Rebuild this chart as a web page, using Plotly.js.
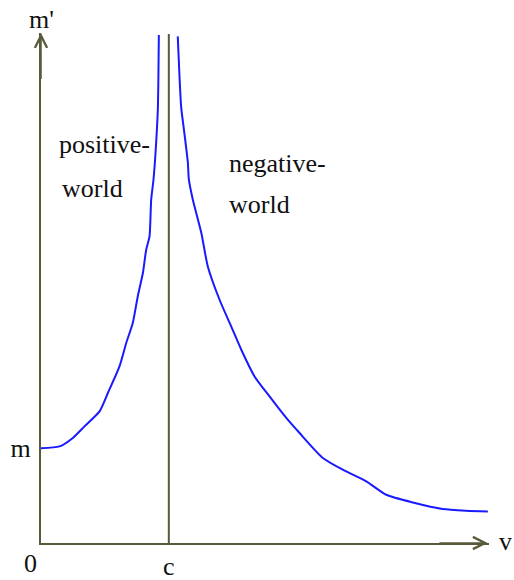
<!DOCTYPE html>
<html>
<head>
<meta charset="utf-8">
<script src="https://cdn.plot.ly/plotly-3.0.1.min.js"></script>
<style>
  html, body { margin: 0; padding: 0; background: #ffffff; }
  #chart { width: 514px; height: 580px; }
</style>
</head>
<body>
<div id="chart"></div>
<script>
// Speed v measured in units of c, mass m' in units of the rest mass m.
const cValue = 1;
const mValue = 1;

// Below light speed: the "positive world" branch, rising from m towards infinity.
const positiveV = [0, 0.145, 0.249, 0.340, 0.458, 0.523, 0.614, 0.667, 0.718, 0.757,
                   0.797, 0.823, 0.849, 0.862, 0.880, 0.896, 0.914, 0.922];
const positiveM = [1.00, 1.019, 1.108, 1.230, 1.388, 1.582, 1.863, 2.110, 2.321, 2.601,
                   2.848, 3.094, 3.234, 3.621, 3.832, 4.117, 4.571, 5.36];

// Above light speed: the "negative world" branch, falling from infinity.
const negativeV = [1.070, 1.084, 1.097, 1.115, 1.131, 1.149, 1.157, 1.188, 1.254, 1.305,
                   1.397, 1.488, 1.567, 1.671, 1.788, 1.919, 2.023, 2.205, 2.361, 2.545,
                   2.701, 2.909, 3.144, 3.327, 3.496];
const negativeM = [5.344, 4.908, 4.592, 4.395, 4.223, 4.012, 3.832, 3.621, 3.273, 2.918,
                   2.566, 2.285, 2.039, 1.757, 1.546, 1.319, 1.160, 0.897, 0.773, 0.650,
                   0.509, 0.428, 0.359, 0.341, 0.333];

const xTickVals = [cValue];
const xTickText = ['c'];
const yTickVals = [mValue];
const yTickText = ['m'];

const xMax = 3.505;
const yMax = 5.38;

const axisColor = '#5a5a3a';
const curveColor = '#1a1aff';
const serif = '"Liberation Serif", "Times New Roman", serif';
const textFont = { family: serif, size: 26, color: '#111111' };

const curveLine = { color: curveColor, width: 2, shape: 'spline', smoothing: 0.6 };

const traces = [
  { x: positiveV, y: positiveM, mode: 'lines', type: 'scatter',
    line: curveLine, hoverinfo: 'skip', cliponaxis: false },
  { x: negativeV, y: negativeM, mode: 'lines', type: 'scatter',
    line: curveLine, hoverinfo: 'skip', cliponaxis: false }
];

// Text placed relative to a point inside the axes, nudged by pixel offsets.
function label(text, x, y, xanchor, xshift, yshift) {
  return { text: text, x: x, y: y, xref: 'x', yref: 'y', showarrow: false,
           xanchor: xanchor || 'left', yanchor: 'middle', font: textFont,
           xshift: xshift || 0, yshift: yshift || 0 };
}

function arrowHead(x, y, ax, ay) {
  return { text: '', x: x, y: y, ax: ax, ay: ay, xref: 'x', yref: 'y',
           axref: 'x', ayref: 'y', showarrow: true, arrowhead: 5,
           arrowsize: 1.6, arrowwidth: 1.5, arrowcolor: axisColor };
}

const layout = {
  width: 514,
  height: 580,
  margin: { l: 41, r: 25, t: 33, b: 37 },
  paper_bgcolor: '#ffffff',
  plot_bgcolor: '#ffffff',
  showlegend: false,
  xaxis: {
    range: [0, xMax], showgrid: false, zeroline: false,
    showline: true, linecolor: axisColor, linewidth: 2,
    tickvals: xTickVals, ticktext: xTickText, ticks: '',
    ticklabelstandoff: -1, tickfont: textFont, fixedrange: true
  },
  yaxis: {
    range: [0, yMax], showgrid: false, zeroline: false,
    showline: true, linecolor: axisColor, linewidth: 2,
    tickvals: yTickVals, ticktext: yTickText, ticks: '',
    ticklabelstandoff: 3, tickfont: textFont, fixedrange: true
  },
  shapes: [
    { type: 'line', xref: 'x', yref: 'y', x0: cValue, x1: cValue, y0: 0, y1: 5.37,
      line: { color: axisColor, width: 2 } }
  ],
  annotations: [
    arrowHead(xMax - 0.01, 0, xMax - 0.4, 0),
    arrowHead(0, yMax, 0, yMax - 0.5),
    label("m'", 0, yMax, 'left', -14, 14),
    label('v', xMax, 0, 'left', 8, 2),
    label('0', 0, 0, 'center', -11, -20),
    label('positive-', 0.129, 4.20),
    label('world', 0.145, 3.737),
    label('negative-', 1.459, 4.001),
    label('world', 1.459, 3.569)
  ]
};

Plotly.newPlot('chart', traces, layout, { displayModeBar: false, staticPlot: true });
</script>
</body>
</html>
